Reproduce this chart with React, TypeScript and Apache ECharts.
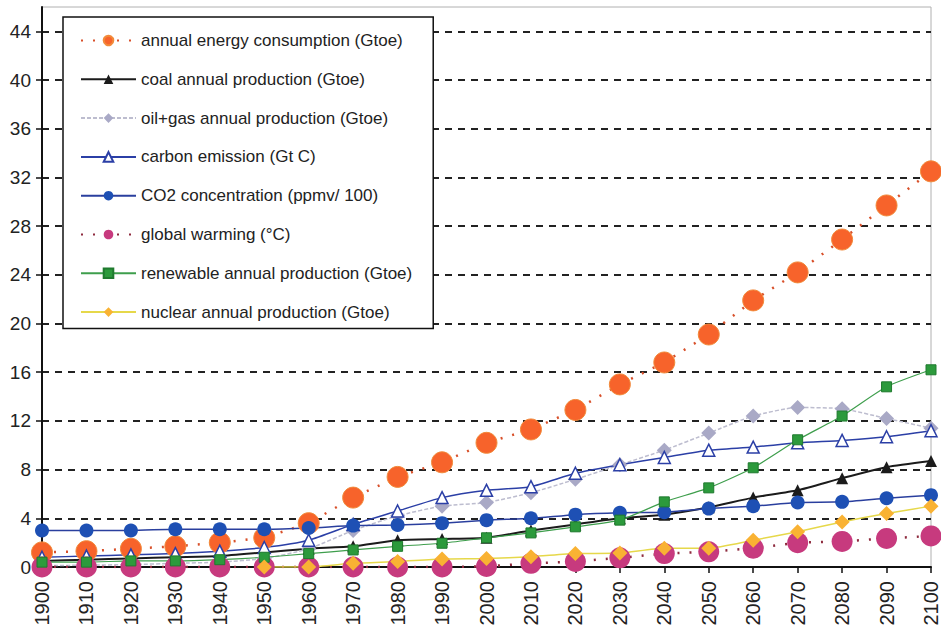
import React, { useEffect, useRef } from "react";
import * as echarts from "echarts";

const years = ["1900","1910","1920","1930","1940","1950","1960","1970","1980","1990","2000","2010","2020","2030","2040","2050","2060","2070","2080","2090","2100"];

const energyConsumption = [1.2,1.3,1.5,1.7,2.0,2.4,3.6,5.7,7.4,8.6,10.2,11.3,12.9,15.0,16.8,19.1,21.9,24.2,26.9,29.7,32.5];
const coalProduction = [0.5,0.6,0.7,0.8,0.9,1.2,1.5,1.7,2.2,2.3,2.4,3.0,3.5,4.0,4.3,4.9,5.7,6.3,7.3,8.2,8.7];
const oilGasProduction = [0.1,0.15,0.2,0.3,0.4,0.7,1.5,3.0,4.2,5.0,5.3,6.1,7.2,8.4,9.6,11.0,12.4,13.1,13.0,12.2,11.4];
const carbonEmission = [0.8,0.9,1.0,1.1,1.3,1.6,2.2,3.5,4.6,5.7,6.3,6.6,7.7,8.4,9.0,9.6,9.85,10.2,10.4,10.7,11.2];
const co2Concentration = [3.0,3.0,3.0,3.1,3.1,3.1,3.2,3.4,3.45,3.6,3.85,4.0,4.3,4.45,4.5,4.8,5.0,5.3,5.35,5.65,5.9];
const globalWarming = [0,0,0,0,0,0,0,0,0,0,0.05,0.3,0.45,0.75,1.1,1.25,1.55,2.0,2.1,2.35,2.55];
const renewableProduction = [0.4,0.4,0.5,0.5,0.6,0.8,1.1,1.4,1.7,1.95,2.4,2.8,3.3,3.85,5.35,6.5,8.15,10.45,12.4,14.8,16.2];
const nuclearProduction = [null,null,null,null,null,0,0,0.3,0.45,0.65,0.7,0.85,1.1,1.15,1.55,1.55,2.2,2.9,3.7,4.4,5.0];

const yTicks = { min: 0, max: 46, interval: 4 };

const seriesNames = [
  "annual energy consumption (Gtoe)",
  "coal annual production (Gtoe)",
  "oil+gas annual production (Gtoe)",
  "carbon emission (Gt C)",
  "CO2 concentration (ppmv/ 100)",
  "global warming (°C)",
  "renewable annual production (Gtoe)",
  "nuclear annual production (Gtoe)",
];

export default function App() {
  const ref = useRef<HTMLDivElement>(null);
  useEffect(() => {
    if (!ref.current) return;
    const chart = echarts.init(ref.current, null, { renderer: "svg" });
    const font = "Liberation Sans, Arial, sans-serif";
    const mk = (i: number, data: any[], o: any) => ({
      name: seriesNames[i],
      type: "line",
      data,
      smooth: 0.2,
      connectNulls: false,
      ...o,
    });
    chart.setOption({
      animation: false,
      backgroundColor: "#ffffff",
      grid: {
        left: 42,
        right: 9,
        top: 7,
        bottom: 65,
        show: true,
        borderColor: "#b0b0b0",
        borderWidth: 1,
        backgroundColor: "transparent",
      },
      legend: {
        orient: "vertical",
        left: 63,
        top: 17,
        itemWidth: 55,
        itemHeight: 12,
        itemGap: 21.8,
        padding: [15, 21, 8, 17],
        borderColor: "#111",
        borderWidth: 1.5,
        backgroundColor: "#fff",
        textStyle: { fontFamily: font, fontSize: 17, color: "#222" },
        data: seriesNames,
      },
      xAxis: {
        type: "category",
        data: years,
        boundaryGap: false,
        axisLine: { lineStyle: { color: "#111", width: 2 } },
        axisTick: { show: true, length: 6, lineStyle: { color: "#111", width: 1.5 } },
        axisLabel: { rotate: 90, margin: 14, fontFamily: font, fontSize: 20, color: "#222" },
        splitLine: { show: false },
      },
      yAxis: {
        type: "value",
        min: yTicks.min,
        max: yTicks.max,
        interval: yTicks.interval,
        axisLine: { show: true, lineStyle: { color: "#111", width: 2 } },
        axisTick: { show: true, length: 6, lineStyle: { color: "#111", width: 1.5 } },
        axisLabel: { margin: 11, fontFamily: font, fontSize: 19, color: "#222", showMaxLabel: false },
        splitLine: {
          show: true,
          showMaxLine: false,
          showMinLine: false,
          lineStyle: { color: "#222", width: 1.8, type: [7, 6] },
        },
      },
      series: [
        mk(0, energyConsumption, {
          symbol: "circle",
          symbolSize: 21,
          itemStyle: { color: "#F7632B", borderColor: "#F28A3A", borderWidth: 1 },
          lineStyle: { color: "#D8502A", width: 2.5, type: [2, 10] },
          smooth: false,
        }),
        mk(1, coalProduction, {
          symbol: "triangle",
          symbolSize: 12,
          itemStyle: { color: "#1b1b1b" },
          lineStyle: { color: "#1b1b1b", width: 2 },
        }),
        mk(2, oilGasProduction, {
          symbol: "diamond",
          symbolSize: 15,
          itemStyle: { color: "#A9A9C6" },
          lineStyle: { color: "#BDBDCF", width: 1.5, type: [4, 2] },
        }),
        mk(3, carbonEmission, {
          symbol: "triangle",
          symbolSize: 12,
          itemStyle: { color: "#ffffff", borderColor: "#2B3FA6", borderWidth: 1.5 },
          lineStyle: { color: "#2B3FA6", width: 1.5 },
        }),
        mk(4, co2Concentration, {
          symbol: "circle",
          symbolSize: 14,
          itemStyle: { color: "#1E50B4" },
          lineStyle: { color: "#2A3F9E", width: 1.5 },
        }),
        mk(5, globalWarming, {
          symbol: "circle",
          symbolSize: 21,
          itemStyle: { color: "#C73A7E" },
          lineStyle: { color: "#8E2B3E", width: 2.5, type: [2, 10] },
          smooth: false,
        }),
        mk(6, renewableProduction, {
          symbol: "rect",
          symbolSize: 10,
          itemStyle: { color: "#2C9A3C", borderColor: "#1F7A2E", borderWidth: 1 },
          lineStyle: { color: "#3E9E4C", width: 1.2 },
        }),
        mk(7, nuclearProduction, {
          symbol: "diamond",
          symbolSize: 15,
          itemStyle: { color: "#F9B233" },
          lineStyle: { color: "#E6D84A", width: 1.5 },
        }),
      ],
    });
    return () => chart.dispose();
  }, []);
  return (
    <div
      ref={ref}
      style={{ position: "fixed", left: 0, top: 0, width: 941, height: 632, background: "#fff" }}
    />
  );
}
